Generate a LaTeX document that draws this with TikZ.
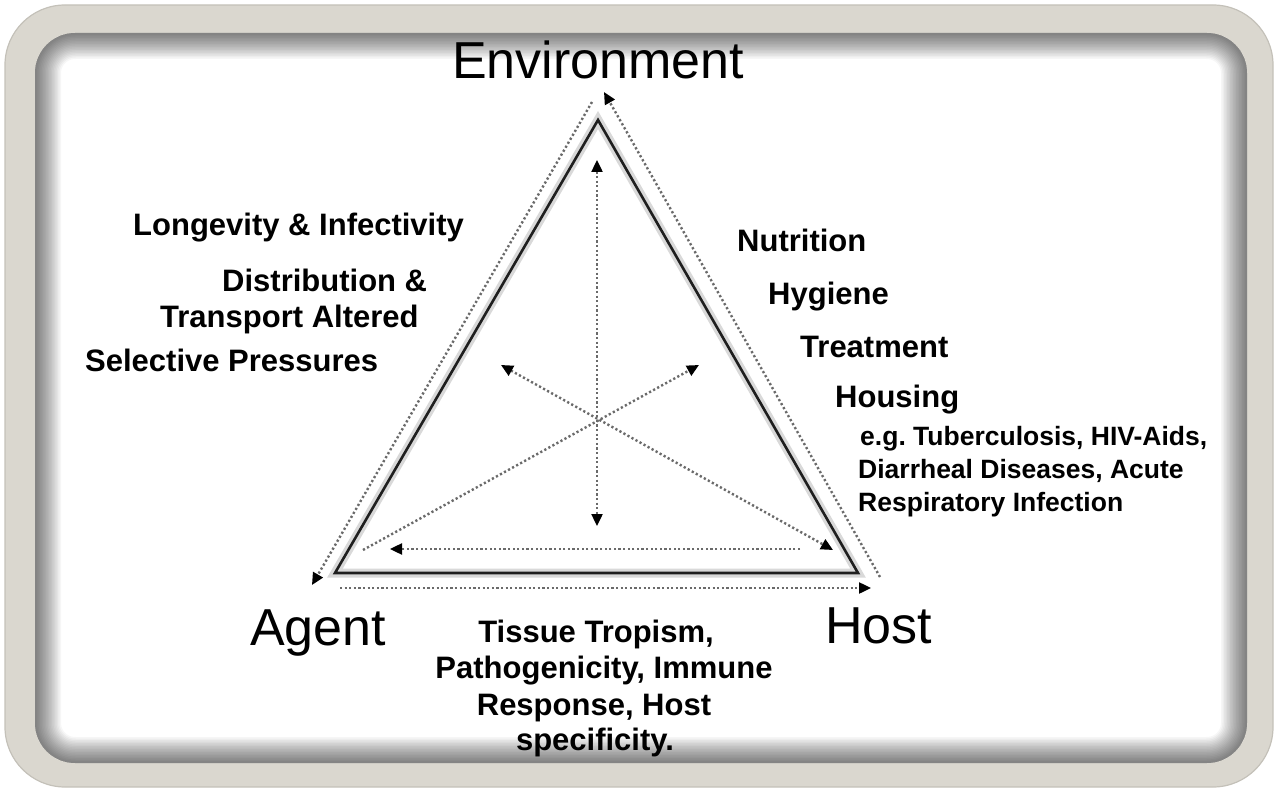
\documentclass[tikz,border=0pt]{standalone}
\usepackage{fontspec}
\setmainfont{Liberation Sans}
\usetikzlibrary{arrows.meta}
\definecolor{framebeige}{HTML}{DAD7CF}
\definecolor{frameedge}{HTML}{C4C1B9}
\definecolor{dotgray}{HTML}{6A6A6A}
\begin{document}
\begin{tikzpicture}[x=1pt,y=-1pt,
  biglabel/.style={font=\fontsize{52}{52}\selectfont, inner sep=0pt, text=black},
  factor/.style={font=\fontsize{31}{34}\selectfont\bfseries, inner sep=0pt, text=black},
  smallfactor/.style={font=\fontsize{26.5}{28}\selectfont\bfseries, inner sep=0pt, text=black},
  dotline/.style={draw=dotgray, line width=2.4pt, dash pattern=on 2.2pt off 2.4pt},
  tip/.style={-{Triangle[length=12pt,width=11pt,color=black]}},
  tips/.style={{Triangle[length=12pt,width=11pt,color=black]}-{Triangle[length=12pt,width=11pt,color=black]}},
]
\useasboundingbox (0,0) rectangle (1278,794);
% frame
\fill[framebeige, draw=frameedge, line width=1.2pt, rounded corners=60] (5,5) rectangle (1273,787);
\fill[white, rounded corners=40] (35,33) rectangle (1247,763);
\begin{scope}
  \clip[rounded corners=40] (35,33) rectangle (1247,763);
  \foreach \w in {52,49,46,43,40,37,34,31,28,25,22,19,16,13,10,7,4}
    \draw[black, opacity=0.036, line width=\w pt, rounded corners=40] (35,33) rectangle (1247,763);
\end{scope}

% triangle corners
\coordinate (apex) at (598,120);
\coordinate (bl) at (335,573);
\coordinate (br) at (858,573);
\draw[gray!30, line width=9pt, line join=miter] (apex) -- (bl) -- (br) -- cycle;
\draw[black!88, line width=2.6pt, line join=miter] (apex) -- (bl) -- (br) -- cycle;

% outer cycle of dotted arrows
\coordinate (rstart) at (880,577);
\coordinate (rend) at (604,92);
\coordinate (lstart) at (592,102);
\coordinate (lend) at (312,585);
\coordinate (bstart) at (340,588);
\coordinate (bend) at (871,588);
\draw[dotline, tip] (rstart) -- (rend);
\draw[dotline, tip] (lstart) -- (lend);
\draw[dotline, tip] (bstart) -- (bend);

% inner dotted arrows
\coordinate (vtop) at (597,160);
\coordinate (vbot) at (597,526);
\coordinate (d1s) at (363,550);
\coordinate (d1e) at (699,365);
\coordinate (d2s) at (501,365);
\coordinate (d2e) at (833,550);
\coordinate (hs) at (800,549);
\coordinate (he) at (390,549);
\draw[dotline, tips] (vtop) -- (vbot);
\draw[dotline, tip] (d1s) -- (d1e);
\draw[dotline, tips] (d2s) -- (d2e);
\draw[dotline, tip] (hs) -- (he);

% vertex labels
\node[biglabel, anchor=base west] (env) at (452,79) {Environment};
\node[biglabel, anchor=base west] (agent) at (250,645) {Agent};
\node[biglabel, anchor=base west] (host) at (825,643) {Host};

% agent-environment factors
\node[factor, anchor=base west] (longevity) at (133,236) {Longevity \& Infectivity};
\node[factor, anchor=base west] (distribution) at (222,292) {Distribution \&};
\node[factor, anchor=base west] (transport) at (160,328) {Transport Altered};
\node[factor, anchor=base west] (selective) at (85,372) {Selective Pressures};

% host-environment factors
\node[factor, anchor=base west] (nutrition) at (737,252) {Nutrition};
\node[factor, anchor=base west] (hygiene) at (768,305) {Hygiene};
\node[factor, anchor=base west] (treatment) at (800,358) {Treatment};
\node[factor, anchor=base west] (housing) at (835,408) {Housing};
\node[smallfactor, anchor=base west] (eg) at (860,446) {e.g.\ Tuberculosis, HIV-Aids,};
\node[smallfactor, anchor=base west] (diarrheal) at (858,478) {Diarrheal Diseases, Acute};
\node[smallfactor, anchor=base west] (respiratory) at (858,511) {Respiratory Infection};

% agent-host factors
\node[factor, anchor=base] (tissue) at (596,642) {Tissue Tropism,};
\node[factor, anchor=base] (patho) at (604,678) {Pathogenicity, Immune};
\node[factor, anchor=base] (response) at (594,715) {Response, Host};
\node[factor, anchor=base] (specificity) at (595,750) {specificity.};
\end{tikzpicture}
\end{document}
